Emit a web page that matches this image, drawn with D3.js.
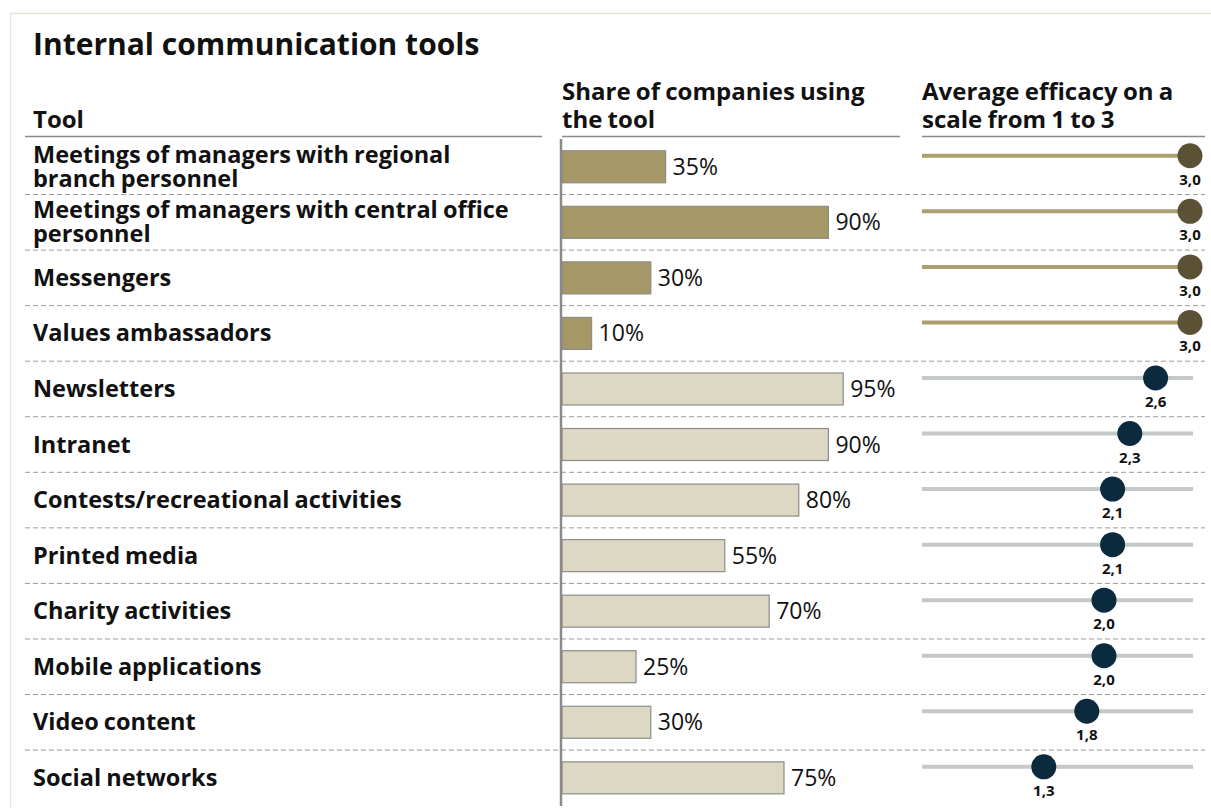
<!DOCTYPE html>
<html>
<head>
<meta charset="utf-8">
<script src="https://cdn.jsdelivr.net/npm/d3@7"></script>
<style>
  html, body { margin: 0; padding: 0; background: #fff; }
  svg { display: block; font-family: "Open Sans", "Noto Sans", sans-serif; }
</style>
</head>
<body>
<svg id="chart" width="1211" height="808"></svg>
<script>
// ---- data ----
const title = "Internal communication tools";
const headerTool = ["Tool"];
const headerShare = ["Share of companies using", "the tool"];
const headerEfficacy = ["Average efficacy on a", "scale from 1 to 3"];
const tools = [
  "Meetings of managers with regional|branch personnel",
  "Meetings of managers with central office|personnel",
  "Messengers",
  "Values ambassadors",
  "Newsletters",
  "Intranet",
  "Contests/recreational activities",
  "Printed media",
  "Charity activities",
  "Mobile applications",
  "Video content",
  "Social networks"
];
const share = [35, 90, 30, 10, 95, 90, 80, 55, 70, 25, 30, 75];
const efficacy = [3.0, 3.0, 3.0, 3.0, 2.6, 2.3, 2.1, 2.1, 2.0, 2.0, 1.8, 1.3];
const group = ["top", "top", "top", "top", "other", "other", "other", "other", "other", "other", "other", "other"];

// ---- styles ----
const barFill = { top: "#a69866", other: "#ddd8c3" };
const lineColor = { top: "#ab9e70", other: "#c5c8c8" };
const dotColor = { top: "#5b5236", other: "#0c2a3e" };

const svg = d3.select("#chart");
const rows = tools.map((t, i) => ({ tool: t, share: share[i], eff: efficacy[i], g: group[i] }));

// frame
svg.append("rect").attr("x", 10.5).attr("y", 13.5).attr("width", 1400).attr("height", 1000)
  .attr("fill", "none").attr("stroke", "#e6e2d5").attr("stroke-width", 1.5);

// title
svg.append("text").attr("x", 33).attr("y", 55).text(title)
  .attr("font-size", 30).attr("font-weight", 700).attr("fill", "#111");

// scales
const y = d3.scaleBand().domain(tools).range([139, 805.6]).padding(0);
const x = d3.scaleLinear().domain([0, 100]).range([562, 858]);
const e = d3.scaleLinear().domain([1, 3]).range([1018, 1190]);
const barH = 32;
const cy = d => y(d.tool) + y.bandwidth() / 2;

const FS = 23.5;
// headers
function header(lines, x0) {
  const t = svg.append("text").attr("font-size", 24).attr("font-weight", 700).attr("fill", "#111")
    .attr("word-spacing", -1);
  lines.forEach((l, i) => {
    t.append("tspan").attr("x", x0).attr("y", 128 - (lines.length - 1 - i) * 28).text(l);
  });
}
header(headerTool, 33);
header(headerShare, 562);
header(headerEfficacy, 922);

// header underlines
[[25, 542], [562, 900], [922, 1205]].forEach(([a, b]) => {
  svg.append("line").attr("x1", a).attr("x2", b).attr("y1", 136.5).attr("y2", 136.5)
    .attr("stroke", "#8a8a8a").attr("stroke-width", 1.5);
});

// dashed separators
svg.append("g").selectAll("line").data(rows.slice(1)).join("line")
  .attr("x1", 25).attr("x2", 1205)
  .attr("y1", d => y(d.tool)).attr("y2", d => y(d.tool))
  .attr("stroke", "#9a9a9a").attr("stroke-width", 1).attr("stroke-dasharray", "5,3");

// row labels
const lab = svg.append("g").selectAll("text").data(rows).join("text")
  .attr("font-size", FS).attr("font-weight", 700).attr("fill", "#111").attr("word-spacing", -1);
lab.each(function (d) {
  const parts = d.tool.split("|");
  const lh = 24;
  const t = d3.select(this);
  parts.forEach((p, i) => {
    t.append("tspan").attr("x", 33)
      .attr("y", cy(d) + 8 + (i - (parts.length - 1) / 2) * lh)
      .text(p);
  });
});

// bars
svg.append("g").selectAll("rect").data(rows).join("rect")
  .attr("x", x(0))
  .attr("y", d => cy(d) - barH / 2)
  .attr("width", d => x(d.share) - x(0))
  .attr("height", barH)
  .attr("fill", d => barFill[d.g])
  .attr("stroke", "#8c8c88").attr("stroke-width", 1.2);

// axis line
svg.append("line").attr("x1", 561).attr("x2", 561).attr("y1", 139).attr("y2", 806)
  .attr("stroke", "#8a8a8a").attr("stroke-width", 2.5);

// value labels
svg.append("g").selectAll("text").data(rows).join("text")
  .attr("x", d => x(d.share) + 7)
  .attr("y", d => cy(d) + 8)
  .attr("font-size", 23).attr("fill", "#111")
  .text(d => d.share + "%");

// efficacy lines
svg.append("g").selectAll("line").data(rows).join("line")
  .attr("x1", 922).attr("x2", 1193)
  .attr("y1", d => cy(d) - 11).attr("y2", d => cy(d) - 11)
  .attr("stroke", d => lineColor[d.g]).attr("stroke-width", 4);

// dots
svg.append("g").selectAll("circle").data(rows).join("circle")
  .attr("cx", d => e(d.eff)).attr("cy", d => cy(d) - 11).attr("r", 12.5)
  .attr("fill", d => dotColor[d.g]);

// dot labels
const fmt = d3.format(".1f");
svg.append("g").selectAll("text").data(rows).join("text")
  .attr("x", d => e(d.eff)).attr("y", d => cy(d) + 18)
  .attr("text-anchor", "middle").attr("font-size", 15).attr("font-weight", 700).attr("fill", "#111")
  .text(d => fmt(d.eff).replace(".", ","));
</script>
</body>
</html>
